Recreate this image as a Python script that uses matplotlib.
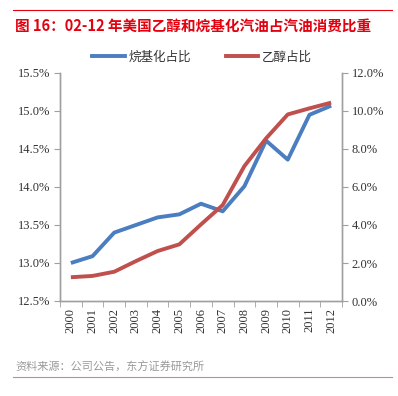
import matplotlib
matplotlib.use("Agg")
import matplotlib.pyplot as plt
from matplotlib.lines import Line2D
from matplotlib.ticker import FuncFormatter, FixedLocator

plt.rcParams['font.family'] = ['Noto Sans CJK SC', 'DejaVu Sans']

years = ['2000', '2001', '2002', '2003', '2004', '2005', '2006',
         '2007', '2008', '2009', '2010', '2011', '2012']
alkylate_share = [13.00, 13.09, 13.40, 13.50, 13.60, 13.64, 13.78,
                  13.68, 14.01, 14.61, 14.36, 14.95, 15.07]
ethanol_share = [1.25, 1.32, 1.54, 2.10, 2.63, 2.98, 4.03,
                 5.05, 7.10, 8.56, 9.82, 10.14, 10.44]
left_ticks = [12.5, 13.0, 13.5, 14.0, 14.5, 15.0, 15.5]
right_ticks = [0, 2, 4, 6, 8, 10, 12]

title = '图 16：02-12 年美国乙醇和烷基化汽油占汽油消费比重'
source = '资料来源：公司公告，东方证券研究所'
label_alk = '烷基化占比'
label_eth = '乙醇占比'

blue = '#4A7EC0'
red = '#C0504D'
axis_col = '#A0A0A0'
serif = ['Liberation Serif', 'DejaVu Serif']

fig = plt.figure(figsize=(3.98, 3.96), dpi=100)
ax = fig.add_axes([60/398, 1-301/396, 282/398, 228/396])
ax2 = ax.twinx()

x = list(range(len(years)))
ax.plot(x, alkylate_share, color=blue, lw=2.8, solid_capstyle='butt', zorder=3)
ax2.plot(x, ethanol_share, color=red, lw=2.8, solid_capstyle='butt', zorder=3)

ax.set_xlim(-0.5, len(years) - 0.5)
ax.set_ylim(12.5, 15.5)
ax2.set_ylim(0, 12)
ax.set_yticks(left_ticks)
ax2.set_yticks(right_ticks)
ax.yaxis.set_major_formatter(FuncFormatter(lambda v, p: f'{v:.1f}%'))
ax2.yaxis.set_major_formatter(FuncFormatter(lambda v, p: f'{v:.1f}%'))

ax.set_xticks(x)
ax.set_xticklabels(years, rotation=90, fontfamily=serif, fontsize=9)
ax.tick_params(axis='x', which='major', length=0, pad=5)
ax.xaxis.set_minor_locator(FixedLocator([i - 0.5 for i in range(len(years) + 1)]))
ax.tick_params(axis='x', which='minor', length=4, color=axis_col, direction='out')

for lab in ax.get_yticklabels() + ax2.get_yticklabels():
    lab.set_fontfamily(serif)
    lab.set_fontsize(9)
ax.tick_params(axis='y', length=4, color=axis_col, pad=3, labelcolor='#333333')
ax2.tick_params(axis='y', length=4, color=axis_col, pad=3, labelcolor='#333333')
ax.tick_params(axis='x', labelcolor='#333333')

for a in (ax, ax2):
    a.spines['top'].set_visible(False)
    for s in ('left', 'right', 'bottom'):
        a.spines[s].set_color(axis_col)
        a.spines[s].set_linewidth(1.0)

# legend
handles = [Line2D([], [], color=blue, lw=2.8), Line2D([], [], color=red, lw=2.8)]
fig.legend(handles, [label_alk, label_eth], loc='center', bbox_to_anchor=(202/398, 1-57/396),
           ncol=2, frameon=False, fontsize=9, handlelength=2.6, handletextpad=0.3,
           columnspacing=2.8, labelcolor='#333333', borderpad=0)

# title and decorations
fig.text(15/398, 1-26/396, title, color='#E3000F', fontsize=10.5, fontweight='bold',
         va='center', ha='left')
fig.add_artist(Line2D([13/398, 392/398], [1-10/396, 1-10/396], color='#E3000F', lw=0.8))
fig.text(15/398, 1-367/396, source, color='#999999', fontsize=8, va='center', ha='left')
fig.add_artist(Line2D([13/398, 392/398], [1-377/396, 1-377/396], color='#E08080', lw=0.8))

fig.savefig('out.png', dpi=100)
